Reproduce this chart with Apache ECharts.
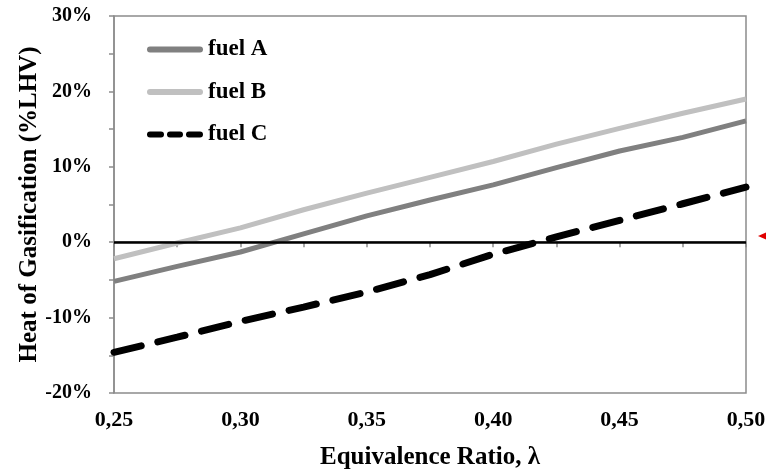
<!DOCTYPE html>
<html>
<head>
<meta charset="utf-8">
<script src="https://cdn.jsdelivr.net/npm/echarts@6/dist/echarts.min.js"></script>
<style>html,body{margin:0;padding:0;background:#fff;}#c{width:767px;height:469px;}</style>
</head>
<body>
<div id="c"></div>
<script>
const lambdas = [0.25, 0.275, 0.30, 0.325, 0.35, 0.375, 0.40, 0.425, 0.45, 0.475, 0.50];
const fuelA = [-5.2, -3.2, -1.3, 1.1, 3.5, 5.6, 7.6, 9.9, 12.1, 13.9, 16.1];
const fuelB = [-2.2, -0.1, 1.9, 4.3, 6.5, 8.6, 10.7, 13.0, 15.1, 17.1, 19.0];
const fuelC = [-14.6, -12.6, -10.5, -8.6, -6.6, -4.3, -1.6, 0.7, 2.9, 5.1, 7.3];
const seriesNames = ['fuel A', 'fuel B', 'fuel C'];
const yTicks = [-20, -10, 0, 10, 20, 30];

const font = 'Liberation Serif, Times New Roman, serif';
const pair = (arr) => lambdas.map((x, i) => [x, arr[i]]);
const chart = echarts.init(document.getElementById('c'), null, {renderer: 'canvas'});
const axisGray = '#8c8c8c';
const solidIcon = 'path://M3,0 L53,0 A3,3 0 0 1 53,6 L3,6 A3,3 0 0 1 3,0 Z';
const dashIcon = 'path://M3,0 L14,0 A3,3 0 0 1 14,6 L3,6 A3,3 0 0 1 3,0 Z M23,0 L33,0 A3,3 0 0 1 33,6 L23,6 A3,3 0 0 1 23,0 Z M42,0 L53,0 A3,3 0 0 1 53,6 L42,6 A3,3 0 0 1 42,0 Z';
chart.setOption({
  animation: false,
  backgroundColor: '#fff',
  grid: {left: 114, right: 21, top: 16, bottom: 76, show: true, borderColor: axisGray, borderWidth: 1.5,
    outerBoundsMode: 'none', containLabel: false},
  legend: {
    orient: 'vertical', left: 142, top: 33,
    itemWidth: 56, itemHeight: 6, itemGap: 19.5,
    textStyle: {fontFamily: font, fontWeight: 'bold', fontSize: 23, lineHeight: 20, color: '#000', padding: [0, 0, 0, 0]},
    data: [
      {name: seriesNames[0], icon: solidIcon},
      {name: seriesNames[1], icon: solidIcon},
      {name: seriesNames[2], icon: dashIcon}
    ]
  },
  xAxis: {
    type: 'value', min: 0.25, max: 0.5, interval: 0.05,
    name: 'Equivalence Ratio, λ', nameLocation: 'middle', nameGap: 52, nameMoveOverlap: false,
    nameTextStyle: {fontFamily: font, fontWeight: 'bold', fontSize: 25, color: '#000'},
    axisLine: {show: true, lineStyle: {color: axisGray, width: 1.5}},
    axisTick: {show: true, inside: false, length: 5, lineStyle: {color: axisGray, width: 1.5}},
    minorTick: {show: true, splitNumber: 2, length: 5, lineStyle: {color: axisGray, width: 1.5}},
    splitLine: {show: false},
    axisLabel: {margin: 16, fontFamily: font, fontWeight: 'bold', fontSize: 22, color: '#000',
      formatter: v => v.toFixed(2).replace('.', ',')}
  },
  yAxis: {
    type: 'value', min: yTicks[0], max: yTicks[yTicks.length - 1], interval: 10,
    name: 'Heat of Gasification (%LHV)', nameLocation: 'middle', nameGap: 72, nameMoveOverlap: false,
    nameTextStyle: {fontFamily: font, fontWeight: 'bold', fontSize: 25, color: '#000'},
    axisLine: {show: true, lineStyle: {color: axisGray, width: 1.5}},
    axisTick: {show: true, inside: false, length: 5, lineStyle: {color: axisGray, width: 1.5}},
    minorTick: {show: true, splitNumber: 2, length: 5, lineStyle: {color: axisGray, width: 1.5}},
    splitLine: {show: false},
    axisLabel: {margin: 22, fontFamily: font, fontWeight: 'bold', fontSize: 20, color: '#000',
      formatter: v => v + '%'}
  },
  series: [
    {name: seriesNames[0], type: 'line', data: pair(fuelA), symbol: 'none', z: 3,
      lineStyle: {color: '#808080', width: 5}, itemStyle: {color: '#808080'},
      markLine: {silent: true, symbol: 'none', label: {show: false},
        lineStyle: {color: '#000', width: 2.5, type: 'solid'}, data: [{yAxis: 0}]}},
    {name: seriesNames[1], type: 'line', data: pair(fuelB), symbol: 'none', z: 3,
      lineStyle: {color: '#c0c0c0', width: 5}, itemStyle: {color: '#c0c0c0'}},
    {name: seriesNames[2], type: 'line', data: pair(fuelC), symbol: 'none', z: 4,
      lineStyle: {color: '#000', width: 7, type: [28, 17], cap: 'round'}, itemStyle: {color: '#000'}}
  ],
  graphic: [
    {type: 'polygon', shape: {points: [[758, 236], [766, 232.5], [766, 239.5]]}, style: {fill: '#e00000'}}
  ]
});
</script>
</body>
</html>
